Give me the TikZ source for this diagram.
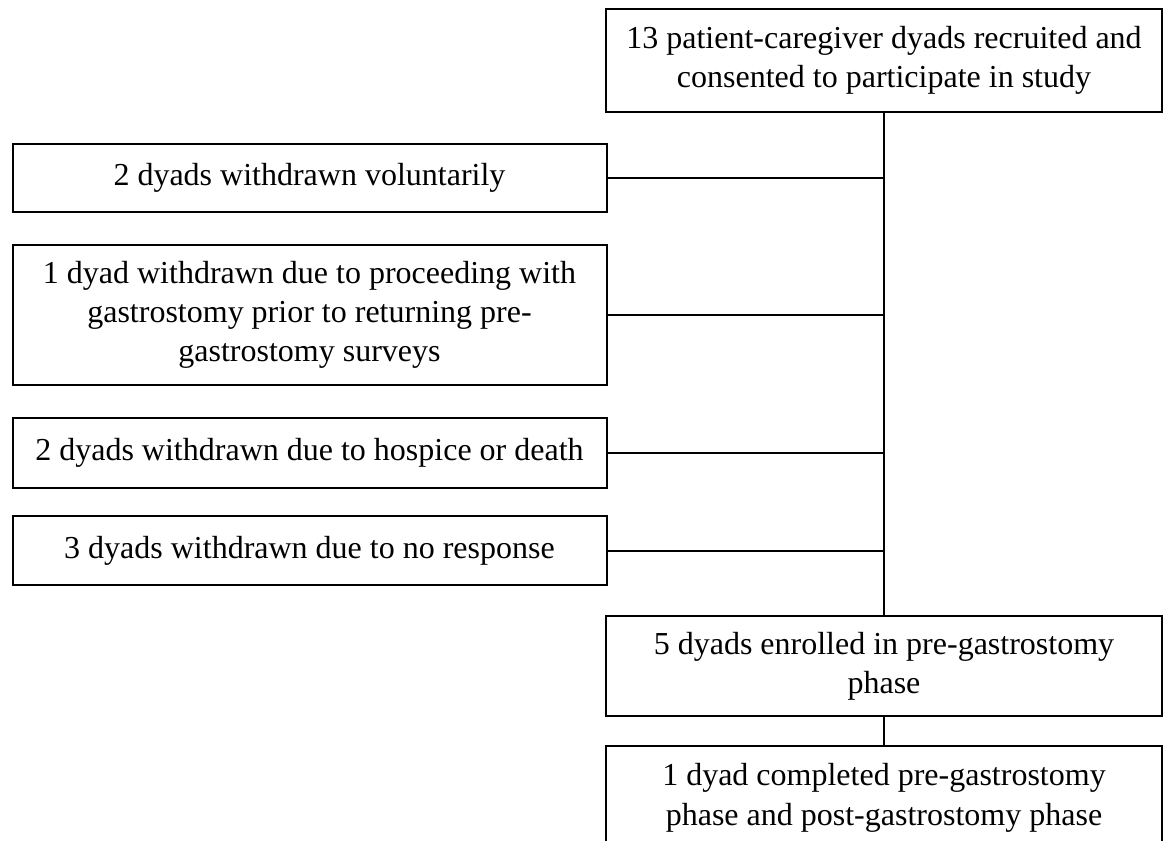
\documentclass[tikz,border=0pt]{standalone}
\usepackage{fontspec}
\setmainfont{Liberation Serif}
\begin{document}
\begin{tikzpicture}[x=0.75pt,y=-0.75pt,
  box/.style={draw=black, line width=1.5pt, rectangle, align=center, inner sep=0pt,
    font=\fontsize{24pt}{29.5pt}\selectfont},
  rbox/.style={box, minimum width=417pt},
  lbox/.style={box, minimum width=445.5pt},
  link/.style={draw=black, line width=1.5pt}]
\useasboundingbox (0,0) rectangle (1168,841);
\fill[white] (0,0) rectangle (1168,841);

\node[rbox, minimum height=77.25pt] (top) at (884,60.5)
  {13 patient-caregiver dyads recruited and\\consented to participate in study};
\node[lbox, minimum height=51pt] (w1) at (309.5,178)
  {2 dyads withdrawn voluntarily};
\node[lbox, minimum height=105pt] (w2) at (309.5,315)
  {1 dyad withdrawn due to proceeding with\\gastrostomy prior to returning pre-\\gastrostomy surveys};
\node[lbox, minimum height=52.5pt] (w3) at (309.5,453)
  {2 dyads withdrawn due to hospice or death};
\node[lbox, minimum height=51.75pt] (w4) at (309.5,550.5)
  {3 dyads withdrawn due to no response};
\node[rbox, minimum height=75pt] (enr) at (884,666)
  {5 dyads enrolled in pre-gastrostomy\\phase};
\node[rbox, minimum height=78pt] (done) at (884,798)
  {1 dyad completed pre-gastrostomy\\phase and post-gastrostomy phase};

\draw[link] (top.south) -- (enr.north);
\draw[link] (w1.east) -- (w1.east -| top.south);
\draw[link] (w2.east) -- (w2.east -| top.south);
\draw[link] (w3.east) -- (w3.east -| top.south);
\draw[link] (w4.east) -- (w4.east -| top.south);
\draw[link] (enr.south) -- (done.north);
\end{tikzpicture}
\end{document}
